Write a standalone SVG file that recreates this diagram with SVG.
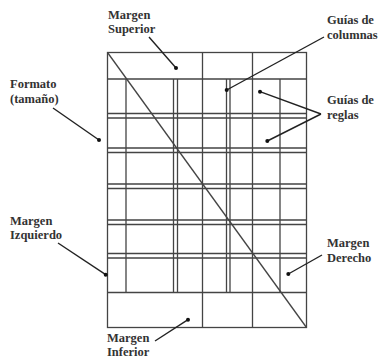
<svg xmlns="http://www.w3.org/2000/svg" width="384" height="358" viewBox="0 0 384 358">
<style>
.g{stroke:#444;stroke-width:1.3;fill:none}
.ld{stroke:#222;stroke-width:1.4;fill:none}
.dot{fill:#111}
text{font-family:"Liberation Serif","Times New Roman",serif;font-weight:bold;font-size:12.5px;fill:#333}
</style>
<rect width="384" height="358" fill="#fff"/>
<g id="page">
<rect class="g" x="107.5" y="52.5" width="199" height="275"/>
<path class="g" d="M107.5 79H306.5M107.5 292.5H306.5
M107.5 113.5H306.5M107.5 118H306.5
M107.5 148H306.5M107.5 152.5H306.5
M107.5 184H306.5M107.5 188.5H306.5
M107.5 220H306.5M107.5 224.5H306.5
M107.5 253.5H306.5M107.5 258H306.5
M126 79V292.5M173.5 79V292.5M177.5 79V292.5
M226.5 79V292.5M230 79V292.5M280 79V292.5
M202.5 52.5V327.5M252.5 52.5V327.5"/>
<path class="g" d="M107.5 52.5L306.5 327.5"/>
</g>
<g id="connectors">
<path class="ld" d="M149 37L176 68"/>
<path class="ld" d="M53 108L99 140"/>
<path class="ld" d="M324 37L226.7 90"/>
<path class="ld" d="M321 114L260 91.7M321 114L267.3 141"/>
<path class="ld" d="M58 243L105.7 274.7"/>
<path class="ld" d="M322 255L288.3 274"/>
<path class="ld" d="M155 341L188 319.7"/>
<circle class="dot" cx="176" cy="68" r="2"/>
<circle class="dot" cx="99" cy="140" r="2"/>
<circle class="dot" cx="226.7" cy="90" r="2"/>
<circle class="dot" cx="260" cy="91.7" r="2"/>
<circle class="dot" cx="267.3" cy="141" r="2"/>
<circle class="dot" cx="105.7" cy="274.7" r="2"/>
<circle class="dot" cx="288.3" cy="274" r="2"/>
<circle class="dot" cx="188" cy="319.7" r="2"/>
</g>
<g id="margen-superior"><text x="108" y="18.5">Margen</text><text x="108" y="32.5">Superior</text></g>
<g id="formato"><text x="10" y="87.5">Formato</text><text x="10" y="102.5">(tamaño)</text></g>
<g id="guias-columnas"><text x="327" y="24">Guías de</text><text x="327" y="38.5">columnas</text></g>
<g id="guias-reglas"><text x="327" y="104">Guías de</text><text x="327" y="118.5">reglas</text></g>
<g id="margen-izquierdo"><text x="10" y="224.5">Margen</text><text x="10" y="239">Izquierdo</text></g>
<g id="margen-derecho"><text x="327" y="247">Margen</text><text x="327" y="261.5">Derecho</text></g>
<g id="margen-inferior"><text x="107" y="341.5">Margen</text><text x="107" y="355.5">Inferior</text></g>
</svg>
